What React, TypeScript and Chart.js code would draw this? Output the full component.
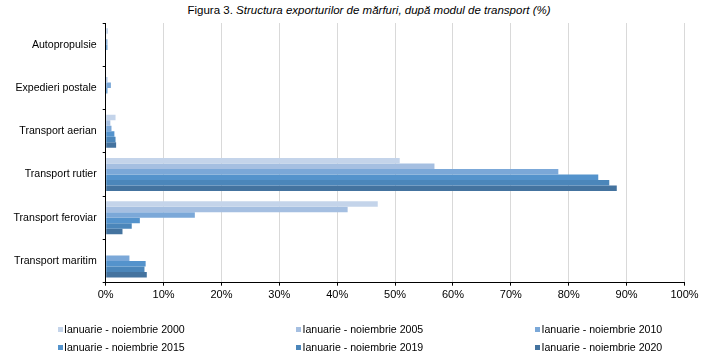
import React, { useEffect, useRef } from "react";
import { Chart, registerables } from "chart.js";

Chart.register(...registerables);

const categories = [
  "Autopropulsie",
  "Expedieri postale",
  "Transport aerian",
  "Transport rutier",
  "Transport feroviar",
  "Transport maritim",
];

const seriesLabels = [
  "Ianuarie - noiembrie 2000",
  "Ianuarie - noiembrie 2005",
  "Ianuarie - noiembrie 2010",
  "Ianuarie - noiembrie 2015",
  "Ianuarie - noiembrie 2019",
  "Ianuarie - noiembrie 2020",
];

const values2000 = [0.4, 0.1, 1.7, 50.8, 47.0, 0];
const values2005 = [0.1, 0.3, 0.8, 56.8, 41.8, 0];
const values2010 = [0.3, 0.9, 1.0, 78.2, 15.4, 4.1];
const values2015 = [0.3, 0.3, 1.5, 85.1, 5.9, 6.9];
const values2019 = [0, 0, 1.7, 87.0, 4.5, 6.7];
const values2020 = [0, 0, 1.8, 88.3, 2.9, 7.1];

const seriesValues = [values2000, values2005, values2010, values2015, values2019, values2020];
const seriesColors = ["#c4d4ea", "#a5bfe1", "#7ba8d8", "#5493cc", "#4b86ba", "#44739f"];

const xTicks = [0, 10, 20, 30, 40, 50, 60, 70, 80, 90, 100];

const FONT = "'Liberation Sans', Arial, sans-serif";

export default function App() {
  const canvasRef = useRef<HTMLCanvasElement | null>(null);

  useEffect(() => {
    const ctx = canvasRef.current;
    if (!ctx) return;
    const chart = new Chart(ctx, {
      type: "bar",
      data: {
        labels: categories,
        datasets: seriesValues.map((vals, i) => ({
          label: seriesLabels[i],
          data: vals,
          backgroundColor: seriesColors[i],
          borderWidth: 0,
          categoryPercentage: 0.76,
          barPercentage: 1,
        })),
      },
      options: {
        indexAxis: "y",
        animation: false,
        responsive: true,
        maintainAspectRatio: false,
        layout: { padding: { top: 23, right: 22.5, bottom: 55.3, left: 0 } },
        plugins: {
          legend: { display: false },
          title: { display: false },
          tooltip: { enabled: false },
        },
        scales: {
          x: {
            type: "linear",
            min: 0,
            max: 100,
            afterBuildTicks: (scale: any) => {
              scale.ticks = xTicks.map((v) => ({ value: v }));
            },
            afterFit: (scale: any) => {
              scale.height = 20;
            },
            ticks: {
              callback: (v: any) => v + "%",
              color: "#000",
              font: { family: FONT, size: 11 },
              padding: 3,
              maxRotation: 0,
            },
            grid: {
              color: "#d9d9d9",
              tickColor: "#000",
              tickLength: 3,
              lineWidth: 1,
            },
            border: { color: "#000", width: 1 },
          },
          y: {
            afterFit: (scale: any) => {
              scale.width = 105.7;
            },
            ticks: {
              color: "#000",
              font: { family: FONT, size: 10.6 },
              padding: 6,
            },
            grid: {
              drawOnChartArea: false,
              color: "#000",
              tickLength: 3,
              offset: true,
            },
            border: { color: "#000", width: 1 },
          },
        },
      },
    });
    return () => chart.destroy();
  }, []);

  const legendCols = [57.5, 296, 535];

  return (
    <div
      style={{
        position: "fixed",
        left: 0,
        top: 0,
        width: 707,
        height: 358,
        background: "#fff",
        fontFamily: FONT,
        overflow: "hidden",
      }}
    >
      <div
        style={{
          position: "absolute",
          left: 369,
          top: 3,
          transform: "translateX(-50%)",
          whiteSpace: "nowrap",
          fontSize: 11.5,
          lineHeight: "14px",
          color: "#000",
        }}
      >
        Figura 3. <span style={{ fontStyle: "italic" }}>Structura exporturilor de mărfuri, după modul de transport (%)</span>
      </div>
      <div style={{ position: "absolute", left: 0, top: 0, width: 707, height: 358 }}>
        <canvas ref={canvasRef} />
      </div>
      {seriesLabels.map((lab, i) => {
        const col = i % 3;
        const row = Math.floor(i / 3);
        return (
          <div
            key={lab}
            style={{
              position: "absolute",
              left: legendCols[col],
              top: 322 + row * 18,
              height: 14,
              display: "flex",
              alignItems: "center",
              whiteSpace: "nowrap",
              fontSize: 10.6,
              color: "#000",
            }}
          >
            <span
              style={{
                display: "inline-block",
                width: 5,
                height: 5,
                background: seriesColors[i],
                marginRight: 1.5,
              }}
            />
            {lab}
          </div>
        );
      })}
    </div>
  );
}
